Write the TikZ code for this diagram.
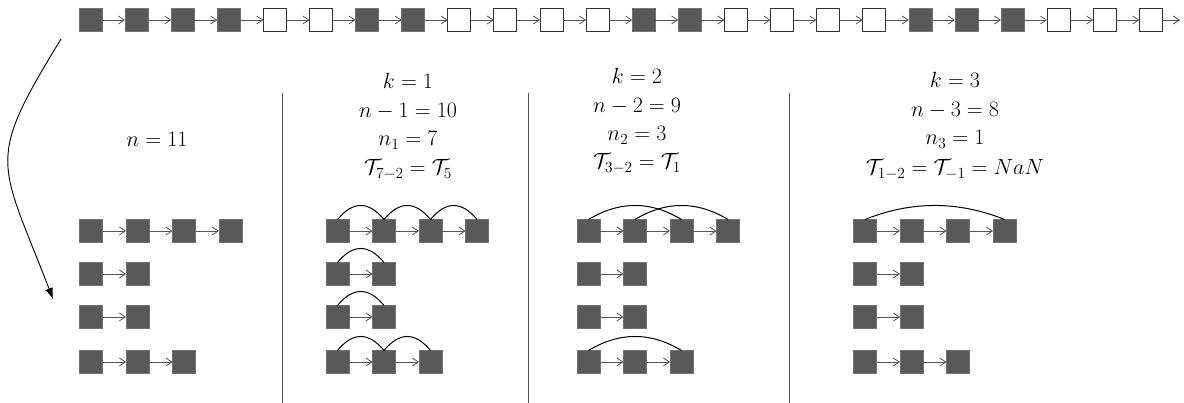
\RequirePackage{fix-cm}
\documentclass[tikz,border=0pt]{standalone}
\usetikzlibrary{arrows.meta}
\definecolor{boxfill}{RGB}{89,89,89}
\definecolor{linkgray}{RGB}{85,85,85}
\newcommand\hoparc[3]{\draw[hop] (#1.north) .. controls +({15.5*#3},-18.7) and +({-15.5*#3},-18.7) .. (#2.north);}
\begin{document}
\begin{tikzpicture}[x=1pt,y=-1pt,
  cell/.style={minimum size=23pt, inner sep=0pt, outer sep=0pt},
  full/.style={cell, fill=boxfill, draw=boxfill!85!white, line width=0.6pt},
  empty/.style={cell, fill=white, draw=black!80, line width=1pt},
  link/.style={draw=linkgray, line width=0.8pt, -{Straight Barb[length=6pt,width=8pt]}},
  hop/.style={draw=black, line width=1pt},
  sep/.style={draw=black!70, line width=0.8pt},
  lbl/.style={anchor=base, inner sep=0pt, font=\fontsize{22}{26}\selectfont}]
\useasboundingbox (0,0) rectangle (1184,403);
% top row
\foreach \s [count=\i] in {full,full,full,full,empty,empty,full,full,empty,empty,empty,empty,full,full,empty,empty,empty,empty,full,full,full,empty,empty,empty}
  \node[\s] (t\i) at ({90.5+46.1*(\i-1)},20) {};
\foreach \i in {2,...,24} {\pgfmathtruncatemacro\p{\i-1}\draw[link] (t\p.east) -- (t\i.west);}
\coordinate (tend) at (1180,20);
\draw[link] (t24.east) -- (tend);
% curved arrow
\coordinate (cs) at (61,39);
\coordinate (ce) at (53,299);
\draw[line width=0.9pt,-{Latex[length=11pt,width=8pt]}] (cs) .. controls (-15,163) and (-1,159) .. (ce);
% separators
\foreach \x [count=\i] in {282.5,528,789.5} {
  \coordinate (sa\i) at (\x,93); \coordinate (sb\i) at (\x,403);
  \draw[sep] (sa\i) -- (sb\i);}
% lower chains
\foreach \col/\xo in {1/91,2/337.5,3/588.5,4/865} {
  \foreach \row/\yy/\n in {1/231/4,2/274/2,3/317/2,4/362/3} {
    \foreach \b in {1,...,\n} \node[full] (n\col\row\b) at ({\xo+46.5*(\b-1)},\yy) {};
    \foreach \b in {2,...,\n} {\pgfmathtruncatemacro\p{\b-1}\draw[link] (n\col\row\p.east) -- (n\col\row\b.west);}
  }
}
% arcs
\hoparc{n211}{n212}{1}\hoparc{n212}{n213}{1}\hoparc{n213}{n214}{1}
\hoparc{n221}{n222}{1}
\hoparc{n231}{n232}{1}
\hoparc{n241}{n242}{1}\hoparc{n242}{n243}{1}
\hoparc{n311}{n313}{2}\hoparc{n312}{n314}{2}
\hoparc{n341}{n343}{2}
\hoparc{n411}{n414}{3}
% labels
\node[lbl] (l1) at (157,147) {$n=11$};
\node[lbl] (l21) at (408,89) {$k=1$};
\node[lbl] (l22) at (408,118) {$n-1=10$};
\node[lbl] (l23) at (408,146) {$n_1=7$};
\node[lbl] (l24) at (408,175) {$\mathcal{T}_{7-2}=\mathcal{T}_5$};
\node[lbl] (l31) at (637,84) {$k=2$};
\node[lbl] (l32) at (637,113) {$n-2=9$};
\node[lbl] (l33) at (637,141) {$n_2=3$};
\node[lbl] (l34) at (637,169) {$\mathcal{T}_{3-2}=\mathcal{T}_1$};
\node[lbl] (l41) at (955,88) {$k=3$};
\node[lbl] (l42) at (955,117) {$n-3=8$};
\node[lbl] (l43) at (955,145) {$n_3=1$};
\node[lbl] (l44) at (955,175) {$\mathcal{T}_{1-2}=\mathcal{T}_{-1}=NaN$};
\end{tikzpicture}
\end{document}
